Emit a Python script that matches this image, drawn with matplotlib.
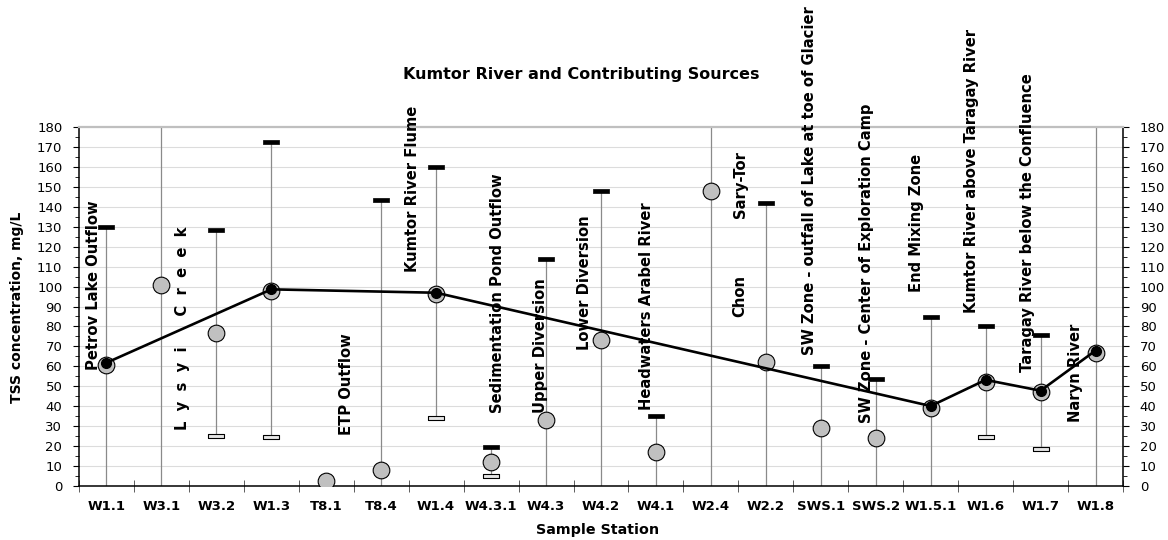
import numpy as np
import matplotlib.pyplot as plt

# TSS, mg/L, per sample station
stations = ['W1.1', 'W3.1', 'W3.2', 'W1.3', 'T8.1', 'T8.4', 'W1.4', 'W4.3.1', 'W4.3',
            'W4.2', 'W4.1', 'W2.4', 'W2.2', 'SWS.1', 'SWS.2', 'W1.5.1', 'W1.6', 'W1.7', 'W1.8']
tss_mean = [60.7, 100.8, 76.6, 98.0, 2.7, 8.0, 96.5, 12.2, 33.1,
            73.2, 17.1, 147.9, 62.3, 29.2, 23.9, 39.3, 52.3, 47.0, 66.9]
# np.inf = maximum above the 180 mg/L scale, nan = no value
tss_max = [130, np.inf, 128.4, 172.4, np.nan, 143.4, 159.8, 19.7, 114,
           148, 35.1, np.inf, 141.8, 60.3, 53.7, 84.6, 80.2, 75.7, np.inf]
tss_min = [np.nan, np.nan, 25.2, 24.6, np.nan, np.nan, 34.1, 4.9, np.nan,
           np.nan, np.nan, np.nan, np.nan, np.nan, np.nan, np.nan, 24.7, 18.4, np.nan]

# main stem of the Kumtor River
river_stations = ['W1.1', 'W1.3', 'W1.4', 'W1.5.1', 'W1.6', 'W1.7', 'W1.8']
river_tss = [61.8, 98.6, 96.9, 40.1, 53.2, 47.8, 67.9]

site_names = ['Petrov Lake Outflow', 'L  y  s  y  i      C  r  e  e  k', 'ETP Outflow',
              'Kumtor River Flume', 'Sedimentation Pond Outflow', 'Upper Diversion',
              'Lower Diversion', 'Headwaters Arabel River', 'Sary-Tor', 'Chon',
              'SW Zone - outfall of Lake at toe of Glacier',
              'SW Zone - Center of Exploration Camp', 'End Mixing Zone',
              'Kumtor River above Taragay River', 'Taragay River below the Confluence',
              'Naryn River']
# (x in category units, y of the text's lower end)
name_pos = [(-0.245, 58.2), (1.39, 28.1), (4.377, 25.6), (5.578, 107.5), (7.125, 36.6),
            (7.908, 36.6), (8.708, 68.2), (9.837, 38.1), (11.53, 134.4), (11.53, 84.8),
            (12.80, 65.7), (13.84, 31.6), (14.75, 97.3), (15.75, 86.8), (16.77, 57.2),
            (17.63, 32.1)]

ymax = 180
x = np.arange(len(stations))
hi = np.clip(np.array(tss_max, dtype=float), None, ymax)
lo = np.where(np.isnan(tss_min), 0, tss_min)

fig = plt.figure(figsize=(11.68, 5.4), dpi=100)
ax = fig.add_axes([79 / 1168, 1 - 486 / 540, (1123 - 79) / 1168, (486 - 127) / 540])

ax.set_ylim(0, ymax)
ax.set_xlim(-0.5, len(stations) - 0.5)
ax.set_yticks(np.arange(0, ymax + 1, 10))
ax.set_yticks(np.arange(0, ymax + 1, 5), minor=True)
ax.yaxis.grid(True, color='#dcdcdc', lw=0.8)
ax.set_axisbelow(True)

# min-max range lines
ax.vlines(x, lo, hi, color='#8a8a8a', lw=0.9, zorder=2)

rect = [(-1, -0.27), (1, -0.27), (1, 0.27), (-1, 0.27), (-1, -0.27)]
ax.plot(x, tss_max, ls='none', marker=rect, ms=11, mfc='black', mec='black', mew=0.5, zorder=4)
ax.plot(x, tss_min, ls='none', marker=rect, ms=11, mfc='#e6e6e6', mec='black', mew=0.8, zorder=4)

ax.plot(x, tss_mean, ls='none', marker='o', ms=12, mfc='#c0c0c0', mec='black', mew=0.8, zorder=5)

rx = [stations.index(s) for s in river_stations]
ax.plot(rx, river_tss, color='black', lw=1.9, marker='o', ms=7, mfc='black', mec='black', zorder=6)

for name, (tx, ty) in zip(site_names, name_pos):
    ax.text(tx, ty, name, rotation=90, ha='center', va='bottom', fontsize=10.6,
            fontweight='bold', zorder=7)

ax.set_xticks(x)
ax.set_xticklabels(stations, fontweight='bold', fontsize=9.5)
ax.set_xticks(np.arange(-0.5, len(stations)), minor=True)
ax.tick_params(axis='x', which='major', length=0, pad=10)
ax.tick_params(axis='x', which='minor', direction='inout', length=8, color='#444444')
ax.tick_params(axis='y', which='both', left=True, right=True, labelleft=True, labelright=True,
               labelsize=9.5, pad=8, direction='out')
ax.tick_params(axis='y', which='major', length=4)
ax.tick_params(axis='y', which='minor', length=3)

ax.spines['top'].set_color('#bfbfbf')
ax.spines['top'].set_linewidth(1.6)
for side in ['left', 'right', 'bottom']:
    ax.spines[side].set_linewidth(1.1)

fig.text(581 / 1168, 1 - 75 / 540, 'Kumtor River and Contributing Sources',
         ha='center', va='center', fontsize=11.5, fontweight='bold')
fig.text(17 / 1168, 1 - 307 / 540, 'TSS concentration, mg/L', rotation=90,
         ha='center', va='center', fontsize=10, fontweight='bold')
fig.text(598 / 1168, 1 - 530 / 540, 'Sample Station', ha='center', va='center',
         fontsize=10.3, fontweight='bold')

fig.savefig('out.png', dpi=100)
